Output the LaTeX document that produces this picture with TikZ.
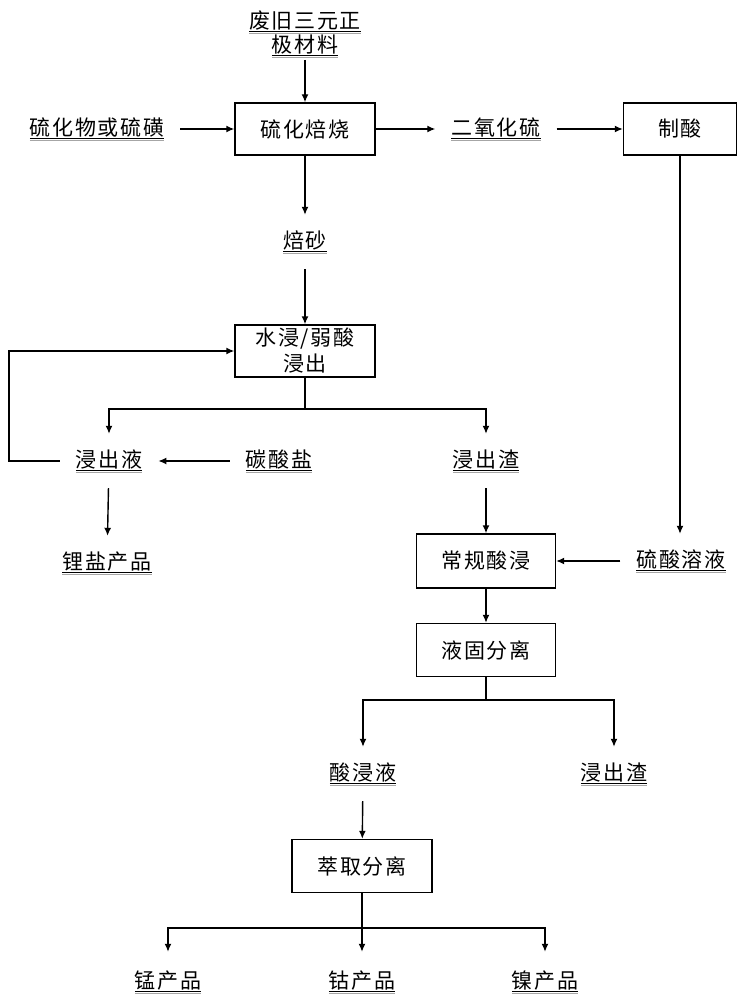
\documentclass[tikz,border=0pt]{standalone}
\usepackage{fontspec}
\newfontfamily\cjk[LetterSpace=8]{Noto Sans CJK SC}
\usetikzlibrary{arrows.meta}
\newcommand\myul[1]{\setbox0\hbox{#1}\leavevmode\rlap{\color{black!35}\rule[-5.6pt]{\wd0}{1pt}}\rlap{\rule[-4.4pt]{\wd0}{1.2pt}}\box0}
\begin{document}
\begin{tikzpicture}[x=1pt,y=-1pt,
  every node/.style={font=\cjk\fontsize{21}{27}\selectfont},
  box/.style={draw, line width=1.4pt, minimum width=140pt, minimum height=52pt, inner sep=0pt, align=center},
  lbl/.style={inner xsep=16pt, inner ysep=0pt, minimum height=54pt},
  prod/.style={inner xsep=16pt, inner ysep=0pt, minimum height=60pt},
  arr/.style={line width=1.4pt, -{Latex[length=8pt,width=7pt]}},
  ln/.style={line width=1.4pt}]
\useasboundingbox (0,0) rectangle (746,1000);
% nodes
\node[inner ysep=2pt] (src1) at (305,22) {\myul{废旧三元正}};
\node[inner ysep=2pt] (src2) at (305,46) {\myul{极材料}};
\node[box] (roast) at (305,129) {硫化焙烧};
\node[lbl] (sulf) at (97,129) {\myul{硫化物或硫磺}};
\node[lbl] (so2) at (496,129) {\myul{二氧化硫}};
\node[box, minimum width=113pt] (acid) at (680,129) {制酸};
\node[lbl] (calc) at (305,242) {\myul{焙砂}};
\node[box] (leach) at (305,351) {水浸/弱酸\\[-1pt]浸出};
\coordinate (j1) at (305,409);
\node[lbl] (liq) at (109,461) {\myul{浸出液}};
\node[lbl] (carb) at (279,461) {\myul{碳酸盐}};
\node[lbl] (res) at (486,461) {\myul{浸出渣}};
\node[lbl] (li) at (107,563) {\myul{锂盐产品}};
\node[box, minimum width=139pt, minimum height=54pt] (aleach) at (486,561) {常规酸浸};
\node[lbl] (h2so4) at (681,561) {\myul{硫酸溶液}};
\node[box, minimum width=139pt, minimum height=53pt] (sep) at (486,650) {液固分离};
\coordinate (j2) at (486,700);
\node[lbl] (aliq) at (363,774) {\myul{酸浸液}};
\node[lbl] (res2) at (614,774) {\myul{浸出渣}};
\node[box, minimum height=53pt] (extr) at (362,866) {萃取分离};
\coordinate (j3) at (362,928);
\node[prod] (mn) at (168,982) {\myul{锰产品}};
\node[prod] (co) at (362,982) {\myul{钴产品}};
\node[prod] (ni) at (545,982) {\myul{镍产品}};
\coordinate (fb) at (9,461);
% connectors
\draw[arr] (src2.south) -- (roast.north);
\draw[arr] (sulf) -- (roast);
\draw[arr] (roast) -- (so2);
\draw[arr] (so2) -- (acid);
\draw[arr] (roast) -- (calc);
\draw[arr] (calc) -- (leach);
\draw[ln] (leach.south) -- (j1);
\draw[arr] (j1) -| (liq.north);
\draw[arr] (j1) -| (res.north);
\draw[arr] (carb) -- (liq);
\draw[arr] (liq.west) -- (fb) |- (leach.west);
\draw[arr] (liq) -- (li);
\draw[arr] (res) -- (aleach);
\draw[arr] (acid.south) -- (acid.south |- h2so4.north);
\draw[arr] (h2so4) -- (aleach);
\draw[arr] (aleach) -- (sep);
\draw[ln] (sep.south) -- (j2);
\draw[arr] (j2) -| (aliq.north);
\draw[arr] (j2) -| (res2.north);
\draw[arr] (aliq) -- (extr);
\draw[ln] (extr.south) -- (j3);
\draw[arr] (j3) -| (mn.north);
\draw[arr] (j3) -- (co.north);
\draw[arr] (j3) -| (ni.north);
\end{tikzpicture}
\end{document}
